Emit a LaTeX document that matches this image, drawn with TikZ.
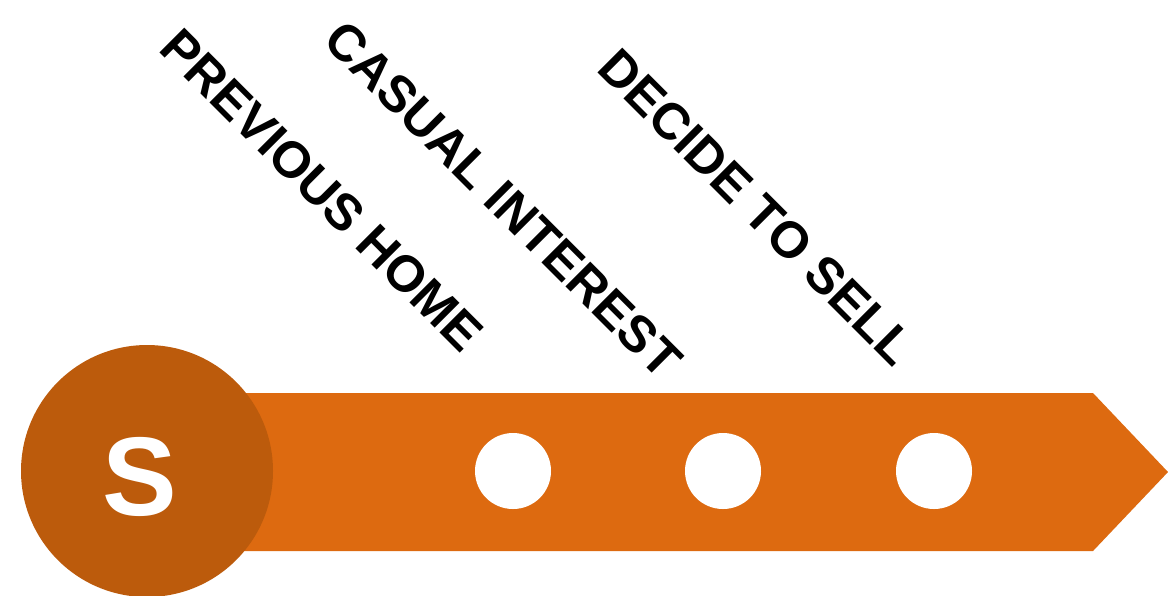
\documentclass[tikz,border=0pt]{standalone}
\usepackage{fontspec}
\setmainfont{Liberation Sans}
\usepackage{tikz}

\definecolor{bandorange}{HTML}{DD6A10}
\definecolor{startorange}{HTML}{BC5B0C}

\begin{document}
\begin{tikzpicture}[
						x=0.025cm,
						y=-0.025cm,
						line join=miter,
						dot/.style={circle, fill=white, inner sep=0pt, minimum size=76*0.025cm},
						steplabel/.style={anchor=base west, inner sep=0pt, rotate=-45,
							font=\fontsize{36.3}{40}\selectfont\bfseries},
						every node/.style={text=black}
						]
						
						\useasboundingbox (0,0) rectangle (1168,595);
						
						% Timeline band with pointed end
						\fill[bandorange] (200,393) -- (1093,393) -- (1168,472) -- (1093,551) -- (200,551) -- cycle;
						
						% Start circle
						\node[circle, fill=startorange, inner sep=0pt, minimum size=252*0.025cm] (start) at (147,471) {};
						\node[anchor=base, inner sep=0pt, text=white,
							font=\fontsize{79.6}{80}\selectfont\bfseries] (startS) at (140,515) {S};
						
						% Milestones
						\node[dot] (prev) at (513,471) {};
						\node[dot] (casual) at (723,471) {};
						\node[dot] (decide) at (934,471) {};
						
						% Labels
						\node[steplabel] (prevlabel) at (157,50) {PREVIOUS HOME};
						\node[steplabel] (casuallabel) at (321,42) {CASUAL INTEREST};
						\node[steplabel] (decidelabel) at (595,70) {DECIDE TO SELL};
						
					\end{tikzpicture}
\end{document}
